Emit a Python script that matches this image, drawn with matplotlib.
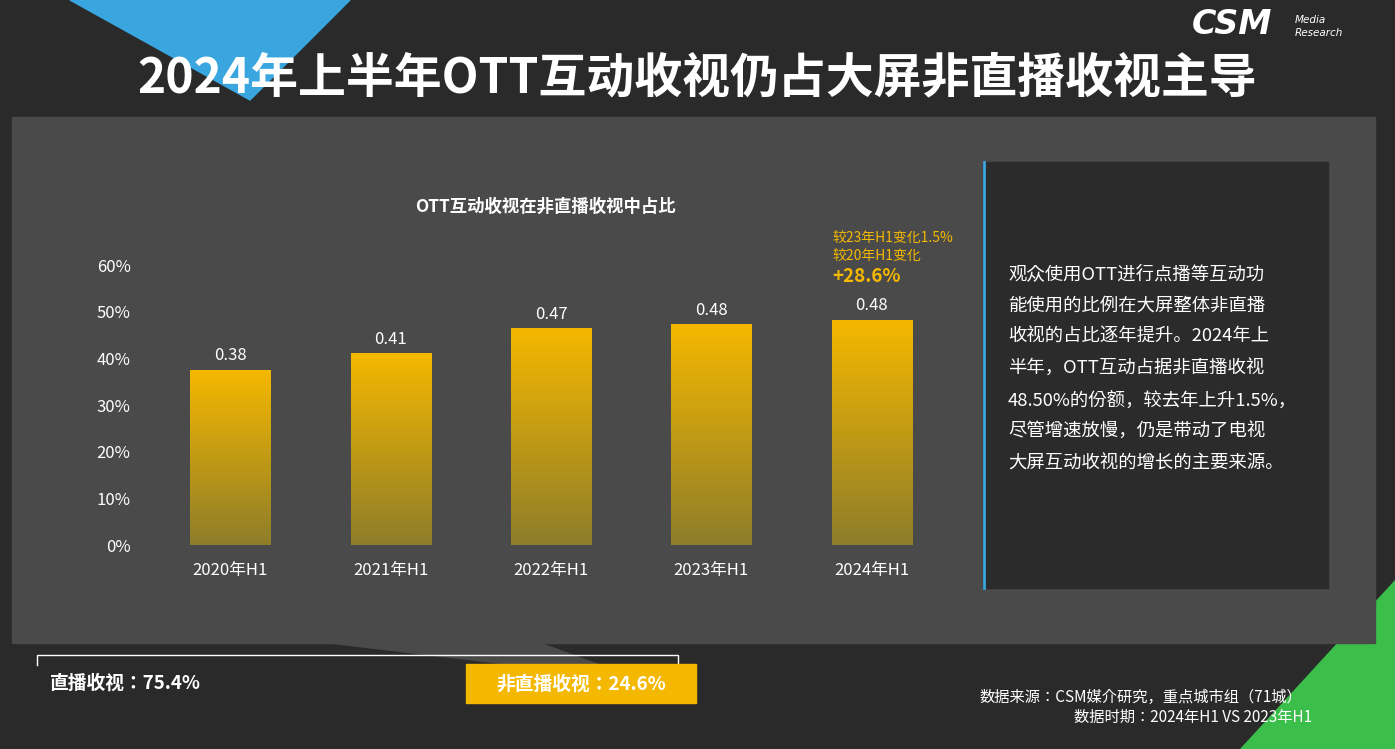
import matplotlib
matplotlib.use("Agg")
import matplotlib.pyplot as plt
import numpy as np
from matplotlib.patches import Rectangle, Polygon
from matplotlib.colors import LinearSegmentedColormap
from matplotlib import font_manager as fm

cands = [f for f in fm.fontManager.ttflist
         if ("CJK" in f.name or "CJK" in f.fname) and "Sans" in f.name and "Serif" not in f.fname]
cands.sort(key=lambda f: (0 if "SC" in f.name else 1, f.fname))
def pick(keys, weight_pref):
    for k in keys:
        for f in cands:
            if k in f.fname:
                return f.fname
    ws = sorted(cands, key=lambda f: abs((f.weight if isinstance(f.weight, int) else 400) - weight_pref))
    return ws[0].fname if ws else None
reg_path = pick(["CJK-Regular", "CJKsc-Regular", "SC-Regular", "Regular"], 400)
bold_path = pick(["CJK-Bold", "CJKsc-Bold", "SC-Bold", "-Bold."], 700)
REG = fm.FontProperties(fname=reg_path) if reg_path else fm.FontProperties()
BOLD = fm.FontProperties(fname=bold_path) if bold_path else fm.FontProperties(weight="bold")

def fp(base, size):
    p = base.copy(); p.set_size(size); return p

categories = ["2020年H1", "2021年H1", "2022年H1", "2023年H1", "2024年H1"]
values = [0.375, 0.41, 0.463, 0.473, 0.482]
value_labels = ["0.38", "0.41", "0.47", "0.48", "0.48"]
yticks = [0, 0.1, 0.2, 0.3, 0.4, 0.5, 0.6]
ytick_labels = ["0%", "10%", "20%", "30%", "40%", "50%", "60%"]

W, H = 1395, 749
fig = plt.figure(figsize=(W/100, H/100), dpi=100)
fig.patch.set_facecolor("#2a2a2a")
bg = fig.add_axes([0, 0, 1, 1])
bg.set_xlim(0, W); bg.set_ylim(H, 0); bg.axis("off")

bg.add_patch(Polygon([[70, 0], [350, 0], [250, 100]], color="#3aa6e0", zorder=1))
bg.add_patch(Polygon([[1395, 580], [1395, 749], [1240, 749]], color="#3bbf4a", zorder=1))
bg.add_patch(Rectangle((12, 117), 1363, 526, color="#4a4a4a", zorder=2))
bg.add_patch(Polygon([[330, 643], [540, 643], [640, 680]], color="#4a4a4a", zorder=2))
bg.add_patch(Rectangle((983, 162), 345, 426, color="#2b2b2b", zorder=3))
bg.plot([984, 984], [162, 588], color="#3aa6e0", lw=2, zorder=4)

bg.text(697, 78, "2024年上半年OTT互动收视仍占大屏非直播收视主导", color="white",
        fontproperties=fp(BOLD, 34.5), ha="center", va="center", zorder=5)
bg.text(1232, 24, "CSM", color="white", fontsize=24, fontweight="bold",
        style="italic", ha="center", va="center", family="DejaVu Sans")
bg.text(1295, 20, "Media", color="white", fontsize=7.5, style="italic", va="center", family="DejaVu Sans")
bg.text(1295, 33, "Research", color="white", fontsize=7.5, style="italic", va="center", family="DejaVu Sans")

bg.text(545, 207, "OTT互动收视在非直播收视中占比", color="white", fontproperties=fp(BOLD, 12.5),
        ha="center", va="center", zorder=5)

txt = ("观众使用OTT进行点播等互动功\n能使用的比例在大屏整体非直播\n收视的占比逐年提升。2024年上\n"
       "半年，OTT互动占据非直播收视\n48.50%的份额，较去年上升1.5%，\n尽管增速放慢，仍是带动了电视\n大屏互动收视的增长的主要来源。")
bg.text(1008, 369, txt, color="white", fontproperties=fp(REG, 13.2), va="center", ha="left",
        linespacing=1.95, zorder=5)

bg.plot([37, 37, 678, 678], [665, 655, 655, 665], color="white", lw=1, zorder=4)
bg.text(50, 683, "直播收视：75.4%", color="white", fontproperties=fp(BOLD, 13.5), va="center")
bg.add_patch(Rectangle((466, 664), 230, 39, color="#f5b800", zorder=4))
bg.text(581, 684, "非直播收视：24.6%", color="white", fontproperties=fp(BOLD, 13.5),
        ha="center", va="center", zorder=5)
bg.text(1302, 697, "数据来源：CSM媒介研究，重点城市组（71城）", color="white",
        fontproperties=fp(REG, 11), ha="right", va="center")
bg.text(1312, 717, "数据时期：2024年H1 VS 2023年H1", color="white",
        fontproperties=fp(REG, 11), ha="right", va="center")

ax = fig.add_axes([150/W, 1-545/H, 802/W, (545-265)/H])
ax.set_facecolor("none")
for s in ax.spines.values():
    s.set_visible(False)
ax.tick_params(length=0, colors="white")
ax.set_yticks(yticks); ax.set_yticklabels(ytick_labels, fontproperties=fp(REG, 12))
ax.tick_params(axis="y", pad=14)
ax.tick_params(axis="x", pad=12)
ax.set_xticks(range(len(categories))); ax.set_xticklabels(categories, fontproperties=fp(REG, 12))

bw = 0.5
grad = np.linspace(0, 1, 256).reshape(-1, 1)
cmap = LinearSegmentedColormap.from_list("g", ["#8e7d2a", "#f5b800"])
for i, v in enumerate(values):
    ax.imshow(grad, extent=[i-bw/2, i+bw/2, 0, v], origin="lower", cmap=cmap,
              aspect="auto", zorder=2)
    ax.text(i, v + 0.012, value_labels[i], color="white", fontproperties=fp(REG, 12),
            ha="center", va="bottom")
ax.set_xlim(-0.5, 4.5); ax.set_ylim(0, 0.6)

bg.text(832, 238, "较23年H1变化1.5%", color="#f5b800", fontproperties=fp(REG, 10), va="center")
bg.text(832, 256, "较20年H1变化", color="#f5b800", fontproperties=fp(REG, 10), va="center")
bg.text(832, 277, "+28.6%", color="#f5b800", fontproperties=fp(BOLD, 13.5), va="center")

fig.savefig("out.png", dpi=100, facecolor=fig.get_facecolor())
